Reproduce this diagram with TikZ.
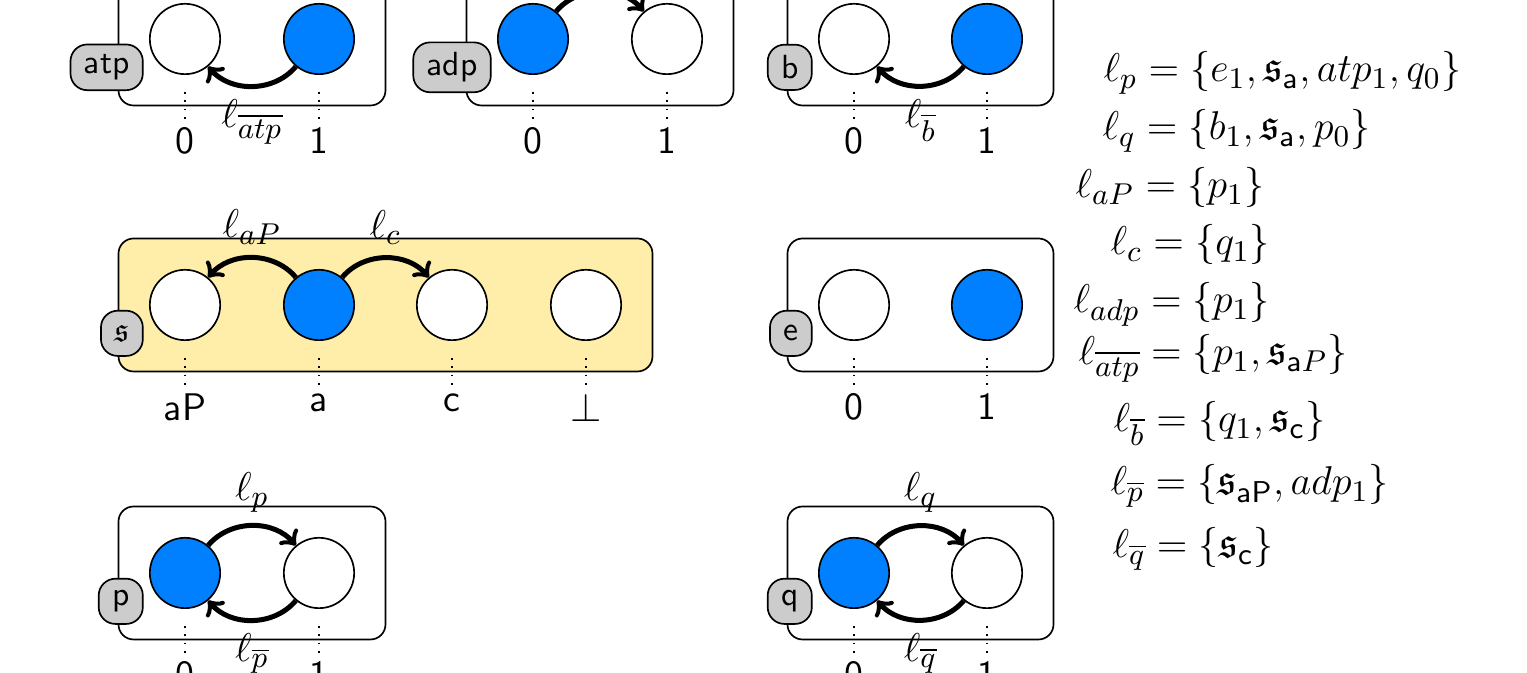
\documentclass[tikz,border=0pt]{standalone}
\usepackage{amsmath,amssymb}
\usetikzlibrary{fit,backgrounds,calc}
\definecolor{cellblue}{HTML}{0080FF}
\definecolor{boxyellow}{HTML}{FFEEAA}
\definecolor{tagfill}{HTML}{CCCCCC}
\begin{document}
\begin{tikzpicture}[x=0.2985pt,y=0.2985pt,
  cell/.style={circle,draw,line width=0.5pt,fill=white,minimum size=21pt,inner sep=0pt},
  oncell/.style={cell,fill=cellblue},
  container/.style={draw,line width=0.5pt,rounded corners=4.5pt,inner sep=9.1pt},
  tag/.style={draw,line width=0.5pt,fill=tagfill,rounded corners=5pt,font=\sffamily,
    inner xsep=4pt,inner ysep=3pt,minimum height=13.5pt,minimum width=12.5pt,anchor=east},
  tick/.style={font=\sffamily\fontsize{11.5}{13}\selectfont,anchor=north,inner sep=1.5pt},
  tickline/.style={dotted,line width=0.5pt},
  arr/.style={->,line width=1.5pt},
  lab/.style={font=\fontsize{13}{15}\selectfont},
  eq/.style={font=\fontsize{13}{15}\selectfont,anchor=base west,inner sep=0pt}]
\useasboundingbox (0,0) rectangle (1527,-673);
\clip (0,0) rectangle (1527,-673);

% ---------- top row ----------
\node[cell]   (atp0) at (185,-39) {};
\node[oncell] (atp1) at (319,-39) {};
\node[oncell] (adp0) at (533,-39) {};
\node[cell]   (adp1) at (667,-39) {};
\node[cell]   (b0)   at (854,-39) {};
\node[oncell] (b1)   at (987,-39) {};

% ---------- middle row ----------
\node[cell]   (saP)  at (185,-305) {};
\node[oncell] (sa)   at (319,-305) {};
\node[cell]   (sc)   at (452,-305) {};
\node[cell]   (sbot) at (586,-305) {};
\node[cell]   (e0)   at (854,-305) {};
\node[oncell] (e1)   at (987,-305) {};

% ---------- bottom row ----------
\node[oncell] (p0) at (185,-573) {};
\node[cell]   (p1) at (319,-573) {};
\node[oncell] (q0) at (854,-573) {};
\node[cell]   (q1) at (987,-573) {};

% ---------- containers ----------
\begin{scope}[on background layer]
  \node[container,fit=(atp0)(atp1)] (atpbox) {};
  \node[container,fit=(adp0)(adp1)] (adpbox) {};
  \node[container,fit=(b0)(b1)] (bbox) {};
  \node[container,fill=boxyellow,fit=(saP)(sbot)] (sbox) {};
  \node[container,fit=(e0)(e1)] (ebox) {};
  \node[container,fit=(p0)(p1)] (pbox) {};
  \node[container,fit=(q0)(q1)] (qbox) {};
\end{scope}

% ---------- tags ----------
\node[tag] (atptag) at ($(atpbox.south west)+(26,39)$) {atp};
\node[tag] (adptag) at ($(adpbox.south west)+(26,39)$) {adp};
\node[tag] (btag)   at ($(bbox.south west)+(26,39)$) {b};
\node[tag] (stag)   at ($(sbox.south west)+(26,39)$) {$\mathfrak{s}$};
\node[tag] (etag)   at ($(ebox.south west)+(26,39)$) {e};
\node[tag] (ptag)   at ($(pbox.south west)+(26,39)$) {p};
\node[tag] (qtag)   at ($(qbox.south west)+(26,39)$) {q};

% ---------- index ticks ----------
\foreach \c/\t in {atp0/0,atp1/1,adp0/0,adp1/1,b0/0,b1/1,e0/0,e1/1,p0/0,p1/1,q0/0,q1/1,saP/aP,sa/a,sc/c,sbot/$\bot$}{
  \node[tick] (\c t) at ($(\c)+(0,-83)$) {\t};
  \draw[tickline] ($(\c.south)+(0,-17)$) -- (\c t);
}

% ---------- transitions ----------
\draw[arr] (atp1) to[bend left=50] node[lab,below] {$\ell_{\overline{atp}}$} (atp0);
\draw[arr] (adp0) to[bend left=50] (adp1);
\draw[arr] (b1) to[bend left=50] node[lab,below] {$\ell_{\overline{b}}$} (b0);
\draw[arr] (sa) to[bend right=50] node[lab,above] {$\ell_{aP}$} (saP);
\draw[arr] (sa) to[bend left=50] node[lab,above] {$\ell_{c}$} (sc);
\draw[arr] (p0) to[bend left=50] node[lab,above] {$\ell_{p}$} (p1);
\draw[arr] (p1) to[bend left=50] node[lab,below] {$\ell_{\overline{p}}$} (p0);
\draw[arr] (q0) to[bend left=50] node[lab,above] {$\ell_{q}$} (q1);
\draw[arr] (q1) to[bend left=50] node[lab,below] {$\ell_{\overline{q}}$} (q0);

% ---------- label sets ----------
\node[eq] (eqp)   at (1103,-82)  {$\ell_p = \{e_1, \mathfrak{s}_{\mathsf{a}}, atp_1, q_0\}$};
\node[eq] (eqq)   at (1102,-140) {$\ell_q = \{b_1, \mathfrak{s}_{\mathsf{a}}, p_0\}$};
\node[eq] (eqaP)  at (1075,-198) {$\ell_{aP} = \{p_1\}$};
\node[eq] (eqc)   at (1110,-255) {$\ell_c = \{q_1\}$};
\node[eq] (eqadp) at (1073,-313) {$\ell_{adp} = \{p_1\}$};
\node[eq] (eqatp) at (1078,-365) {$\ell_{\overline{atp}} = \{p_1, \mathfrak{s}_{\mathsf{a}P}\}$};
\node[eq] (eqb)   at (1113,-432) {$\ell_{\overline{b}} = \{q_1, \mathfrak{s}_{\mathsf{c}}\}$};
\node[eq] (eqpb)  at (1110,-495) {$\ell_{\overline{p}} = \{\mathfrak{s}_{\mathsf{aP}}, adp_1\}$};
\node[eq] (eqqb)  at (1112,-558) {$\ell_{\overline{q}} = \{\mathfrak{s}_{\mathsf{c}}\}$};
\end{tikzpicture}
\end{document}
